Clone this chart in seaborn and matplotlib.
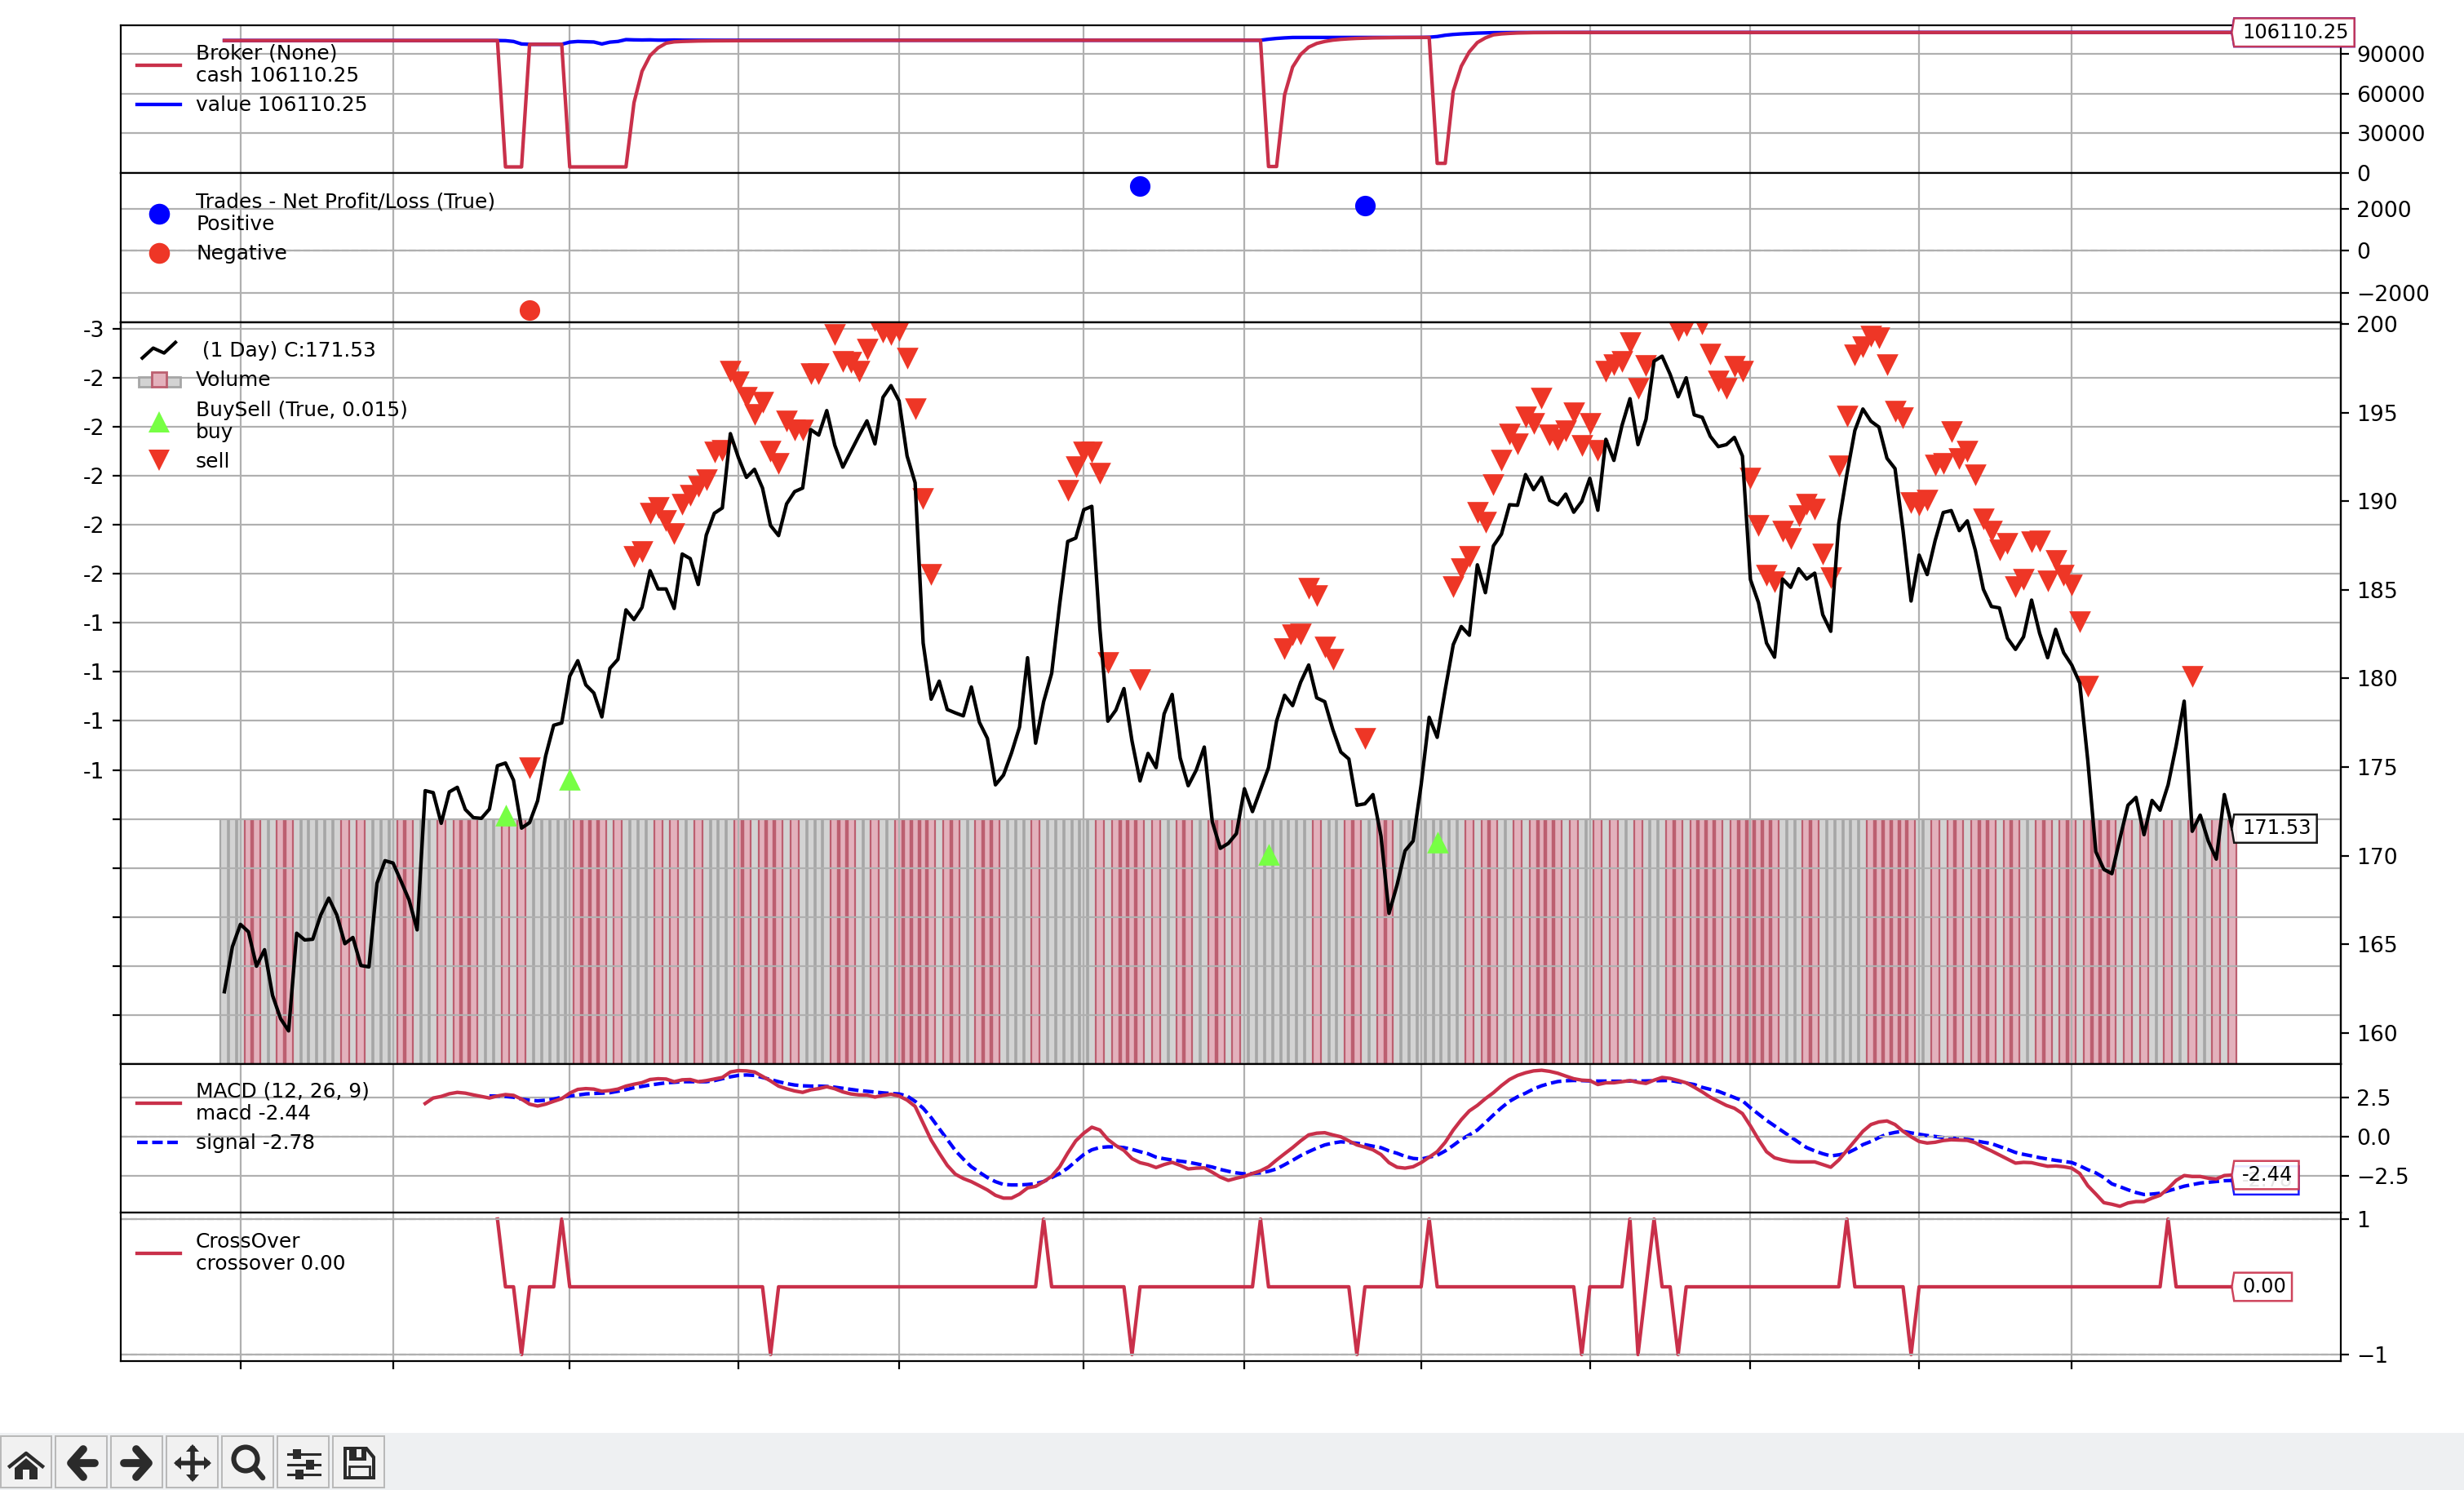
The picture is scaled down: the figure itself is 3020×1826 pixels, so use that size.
import numpy as np
import pandas as pd
import matplotlib
matplotlib.use('Agg')
import matplotlib.pyplot as plt
import seaborn as sns
from matplotlib.legend_handler import HandlerBase
from matplotlib.lines import Line2D
from matplotlib.patches import Circle, Polygon, Rectangle
from matplotlib.path import Path

# --- values ----------------------------------------------------------------
close = [
    162.33, 164.87, 166.13, 165.71, 163.77, 164.70, 162.12, 160.81, 160.12, 165.63,
    165.25, 165.29, 166.66, 167.61, 166.66, 165.04, 165.39, 163.81, 163.73, 168.45,
    169.72, 169.59, 168.56, 167.50, 165.82, 173.67, 173.56, 171.83, 173.60, 173.86,
    172.61, 172.15, 172.11, 172.63, 175.08, 175.23, 174.26, 171.56, 171.87, 173.10,
    175.63, 177.36, 177.49, 180.13, 181.00, 179.64, 179.18, 177.83, 180.57, 181.08,
    183.87, 183.32, 184.01, 186.08, 185.05, 185.05, 183.95, 187.02, 186.76, 185.30,
    188.09, 189.32, 189.62, 193.81, 192.46, 191.34, 191.80, 190.74, 188.63, 188.06,
    189.85, 190.54, 190.74, 194.04, 193.73, 195.11, 193.15, 191.92, 192.80, 193.69,
    194.53, 193.23, 195.86, 196.52, 195.66, 192.55, 191.04, 182.00, 178.83, 179.85,
    178.25, 178.06, 177.89, 179.52, 177.53, 176.62, 174.00, 174.55, 175.80, 177.26,
    181.17, 176.35, 178.69, 180.29, 184.20, 187.73, 187.92, 189.52, 189.71, 182.82,
    177.59, 178.22, 179.43, 176.48, 174.22, 175.77, 174.97, 178.00, 179.10, 175.52,
    173.95, 174.83, 176.13, 171.91, 170.42, 170.70, 171.25, 173.78, 172.49, 173.73,
    174.97, 177.59, 179.05, 178.47, 179.79, 180.76, 178.91, 178.69, 177.13, 175.85,
    175.46, 172.85, 172.93, 173.45, 171.11, 166.75, 168.35, 170.28, 170.83, 174.00,
    177.81, 176.68, 179.38, 181.91, 182.93, 182.44, 186.41, 184.84, 187.48, 188.14,
    189.80, 189.77, 191.50, 190.65, 191.34, 190.05, 189.80, 190.40, 189.38, 189.99,
    191.29, 189.49, 193.49, 192.30, 194.26, 195.78, 193.19, 194.62, 197.90, 198.18,
    197.16, 195.89, 196.96, 194.87, 194.73, 193.66, 193.08, 193.19, 193.60, 192.55,
    185.58, 184.28, 182.00, 181.20, 185.61, 185.14, 186.19, 185.61, 185.94, 183.60,
    182.66, 188.75, 191.50, 193.99, 195.20, 194.51, 194.18, 192.42, 191.84, 188.34,
    184.37, 186.96, 185.86, 187.79, 189.36, 189.47, 188.34, 188.89, 187.23, 185.03,
    184.06, 183.98, 182.27, 181.64, 182.35, 184.42, 182.55, 181.17, 182.77, 181.45,
    180.76, 179.74, 175.38, 170.23, 169.23, 168.99, 170.97, 172.85, 173.29, 171.19,
    173.12, 172.57, 174.00, 176.21, 178.72, 171.38, 172.29, 170.83, 169.81, 173.45,
    171.53,
]
down_days = [
    3, 4, 7, 8, 15, 17, 22, 23, 27, 29, 30, 31, 35, 37, 44, 45, 46, 47, 49, 54, 56,
    59, 64, 65, 67, 68, 69, 71, 76, 77, 78, 81, 84, 85, 86, 87, 88, 90, 91, 94, 95,
    96, 101, 109, 111, 112, 113, 114, 116, 119, 120, 123, 124, 126, 136, 140, 141,
    144, 145, 155, 157, 158, 161, 163, 164, 165, 166, 168, 171, 173, 176, 180, 181,
    183, 184, 185, 186, 188, 189, 190, 191, 192, 193, 197, 198, 205, 206, 207, 208,
    209, 210, 213, 215, 216, 218, 219, 220, 222, 223, 226, 227, 229, 230, 232, 233,
    234, 235, 237, 239, 242, 245, 248, 250,
]
volume_height = 5.0
sell_days = [
    38, 51, 52, 53, 54, 55, 56, 57, 58, 59, 60, 61, 62, 63, 64, 65, 66, 67, 68, 69,
    70, 71, 72, 73, 74, 76, 77, 78, 79, 80, 81, 82, 83, 84, 85, 86, 87, 88, 105, 106,
    107, 108, 109, 110, 114, 132, 133, 134, 135, 136, 137, 138, 142, 153, 154, 155,
    156, 157, 158, 159, 160, 161, 162, 163, 164, 165, 166, 167, 168, 169, 170, 171,
    172, 173, 174, 175, 176, 177, 181, 182, 184, 185, 186, 187, 188, 189, 190, 191,
    192, 193, 194, 195, 196, 197, 198, 199, 200, 201, 202, 203, 204, 205, 206, 207,
    208, 209, 210, 211, 212, 213, 214, 215, 216, 217, 218, 219, 220, 221, 222, 223,
    224, 225, 226, 227, 228, 229, 230, 231, 232, 245,
]
sell_prices = [
    174.98, 186.90, 187.15, 189.31, 189.63, 188.90, 188.16, 189.84, 190.35, 190.84,
    191.20, 192.76, 192.88, 197.35, 196.75, 195.87, 194.87, 195.56, 192.80, 192.11,
    194.53, 194.03, 194.03, 197.20, 197.20, 199.42, 197.89, 197.83, 197.35, 198.55,
    200.16, 199.54, 199.39, 199.65, 198.07, 195.23, 190.16, 185.86, 190.60, 191.92,
    192.77, 192.77, 191.56, 180.90, 179.93, 181.70, 182.47, 182.52, 185.08, 184.67,
    181.78, 181.09, 176.62, 185.17, 186.18, 186.88, 189.36, 188.80, 190.93, 192.33,
    193.79, 193.22, 194.76, 194.37, 195.83, 193.74, 193.46, 193.96, 194.98, 193.13,
    194.37, 192.86, 197.32, 197.68, 197.90, 198.92, 196.38, 197.63, 199.61, 199.90,
    200.02, 198.29, 196.77, 196.38, 197.60, 197.32, 191.29, 188.64, 185.83, 185.47,
    188.31, 187.90, 189.19, 189.83, 189.55, 187.01, 185.69, 191.97, 194.79, 198.23,
    198.70, 199.33, 199.20, 197.68, 195.06, 194.70, 189.90, 189.77, 190.07, 192.03,
    192.11, 193.90, 192.39, 192.80, 191.48, 189.00, 188.31, 187.26, 187.62, 185.19,
    185.61, 187.70, 187.76, 185.50, 186.65, 185.83, 185.28, 183.21, 179.57, 180.12,
]
buy_days = [35, 43, 130, 151]
buy_prices = [172.30, 174.32, 170.09, 170.78]

cash = [
    100000, 100000, 100000, 100000, 100000, 100000, 100000, 100000, 100000, 100000,
    100000, 100000, 100000, 100000, 100000, 100000, 100000, 100000, 100000, 100000,
    100000, 100000, 100000, 100000, 100000, 100000, 100000, 100000, 100000, 100000,
    100000, 100000, 100000, 100000, 100000, 4600, 4600, 4600, 97150, 97150,
    97150, 97150, 97150, 4600, 4600, 4600, 4600, 4600, 4600, 4600,
    4600, 53100, 76800, 88600, 94500, 98000, 99000, 99300, 99500, 99650,
    99750, 99800, 99850, 99880, 99900, 99920, 99940, 99960, 99980, 100000,
    100020, 100040, 100060, 100080, 100100, 100110, 100120, 100130, 100140, 100150,
    100160, 100165, 100170, 100175, 100180, 100185, 100190, 100195, 100200, 100200,
    100200, 100200, 100200, 100200, 100200, 100200, 100200, 100200, 100200, 100200,
    100200, 100200, 100200, 100200, 100200, 100200, 100200, 100200, 100200, 100200,
    100218, 100218, 100218, 100218, 100218, 100218, 100218, 100218, 100218, 100218,
    100218, 100218, 100218, 100218, 100218, 100218, 100218, 100218, 100218, 100218,
    4900, 4900, 59000, 80000, 89500, 95000, 97800, 99300, 100300, 100900,
    101300, 101600, 101800, 102000, 102100, 102180, 102240, 102290, 102320, 102340,
    102340, 7300, 7300, 61700, 80600, 91500, 98500, 102000, 104300, 105000,
    105400, 105700, 105850, 105950, 106000, 106030, 106050, 106070, 106080, 106090,
    106095, 106095, 106095, 106095, 106095, 106100, 106100, 106100, 106100, 106100,
    106100, 106100, 106100, 106100, 106100, 106100, 106100, 106100, 106100, 106100,
    106100, 106100, 106100, 106100, 106100, 106100, 106100, 106100, 106100, 106100,
    106100, 106100, 106100, 106100, 106100, 106100, 106100, 106100, 106100, 106100,
    106100, 106100, 106100, 106100, 106100, 106100, 106100, 106100, 106100, 106100,
    106100, 106100, 106100, 106100, 106100, 106100, 106100, 106100, 106100, 106100,
    106110.25, 106110.25, 106110.25, 106110.25, 106110.25, 106110.25, 106110.25, 106110.25, 106110.25, 106110.25,
    106110.25, 106110.25, 106110.25, 106110.25, 106110.25, 106110.25, 106110.25, 106110.25, 106110.25, 106110.25,
    106110.25,
]
value = [
    100000, 100000, 100000, 100000, 100000, 100000, 100000, 100000, 100000, 100000,
    100000, 100000, 100000, 100000, 100000, 100000, 100000, 100000, 100000, 100000,
    100000, 100000, 100000, 100000, 100000, 100000, 100000, 100000, 100000, 100000,
    100000, 100000, 100000, 100000, 100000, 99900, 99300, 97400, 97150, 97150,
    97150, 97150, 97150, 98800, 99300, 99100, 98900, 97400, 98800, 99300,
    100700, 100500, 100400, 100500, 100300, 100300, 100400, 100300, 100300, 100250,
    100218, 100218, 100218, 100218, 100218, 100218, 100218, 100218, 100218, 100218,
    100218, 100218, 100218, 100218, 100218, 100218, 100218, 100218, 100218, 100218,
    100218, 100218, 100218, 100218, 100218, 100218, 100218, 100218, 100218, 100218,
    100218, 100218, 100218, 100218, 100218, 100218, 100218, 100218, 100218, 100218,
    100218, 100218, 100218, 100218, 100218, 100218, 100218, 100218, 100218, 100218,
    100218, 100218, 100218, 100218, 100218, 100218, 100218, 100218, 100218, 100218,
    100218, 100218, 100218, 100218, 100218, 100218, 100218, 100218, 100218, 100218,
    101000, 101600, 102000, 102300, 102340, 102340, 102340, 102340, 102340, 102340,
    102340, 102340, 102340, 102340, 102340, 102340, 102340, 102340, 102340, 102340,
    102500, 103000, 104000, 104600, 105000, 105300, 105600, 105800, 105950, 106000,
    106050, 106060, 106070, 106070, 106080, 106080, 106090, 106090, 106090, 106090,
    106095, 106095, 106095, 106095, 106095, 106100, 106100, 106100, 106100, 106100,
    106100, 106100, 106100, 106100, 106100, 106100, 106100, 106100, 106100, 106100,
    106100, 106100, 106100, 106100, 106100, 106100, 106100, 106100, 106100, 106100,
    106100, 106100, 106100, 106100, 106100, 106100, 106100, 106100, 106100, 106100,
    106100, 106100, 106100, 106100, 106100, 106100, 106100, 106100, 106100, 106100,
    106100, 106100, 106100, 106100, 106100, 106100, 106100, 106100, 106100, 106100,
    106110.25, 106110.25, 106110.25, 106110.25, 106110.25, 106110.25, 106110.25, 106110.25, 106110.25, 106110.25,
    106110.25, 106110.25, 106110.25, 106110.25, 106110.25, 106110.25, 106110.25, 106110.25, 106110.25, 106110.25,
    106110.25,
]
trade_win_days = [114, 142]
trade_win = [3068, 2124]
trade_loss_days = [38]
trade_loss = [-2850]

macd_start = 25
macd = [
    2.12, 2.47, 2.57, 2.74, 2.83, 2.78, 2.67, 2.57, 2.47, 2.60, 2.69, 2.64, 2.40, 2.08, 1.96,
    2.08, 2.26, 2.43, 2.78, 3.02, 3.07, 3.04, 2.90, 2.95, 3.04, 3.23, 3.35, 3.45, 3.65, 3.70,
    3.68, 3.51, 3.63, 3.65, 3.51, 3.58, 3.68, 3.78, 4.13, 4.22, 4.20, 4.13, 3.85, 3.56, 3.23,
    3.06, 2.92, 2.83, 2.99, 3.07, 3.19, 3.06, 2.86, 2.73, 2.67, 2.66, 2.53, 2.64, 2.71, 2.60,
    2.34, 1.94, 0.87, -0.21, -1.04, -1.82, -2.38, -2.66, -2.86, -3.12, -3.39, -3.73, -3.91,
    -3.91, -3.65, -3.26, -3.16, -2.86, -2.52, -1.91, -1.04, -0.26, 0.23, 0.61, 0.43, -0.17,
    -0.56, -0.87, -1.39, -1.65, -1.77, -1.96, -1.77, -1.63, -1.82, -2.05, -2.00, -1.98, -2.26,
    -2.57, -2.78, -2.64, -2.52, -2.34, -2.17, -1.91, -1.48, -1.08, -0.69, -0.26, 0.12, 0.23,
    0.26, 0.12, 0.00, -0.26, -0.52, -0.66, -0.83, -1.13, -1.65, -1.94, -2.00, -1.91, -1.65,
    -1.30, -0.95, -0.35, 0.43, 1.09, 1.65, 2.00, 2.43, 2.81, 3.26, 3.65, 3.91, 4.08, 4.20,
    4.24, 4.17, 4.05, 3.87, 3.70, 3.61, 3.58, 3.33, 3.44, 3.44, 3.51, 3.58, 3.47, 3.40, 3.61,
    3.78, 3.72, 3.59, 3.44, 3.16, 2.86, 2.52, 2.26, 2.00, 1.82, 1.48, 0.69, -0.17, -0.95,
    -1.34, -1.48, -1.58, -1.60, -1.60, -1.60, -1.77, -1.94, -1.48, -0.87, -0.26, 0.35, 0.78,
    0.95, 1.01, 0.78, 0.35, 0.00, -0.30, -0.40, -0.35, -0.24, -0.19, -0.21, -0.23, -0.38,
    -0.66, -0.90, -1.16, -1.42, -1.68, -1.63, -1.65, -1.77, -1.88, -1.86, -1.91, -2.00, -2.34,
    -3.12, -3.65, -4.20, -4.30, -4.43, -4.22, -4.13, -4.13, -3.91, -3.73, -3.30, -2.78, -2.47,
    -2.53, -2.53, -2.64, -2.69, -2.47, -2.44,
]
signal_start = 33
signal = [
    2.60, 2.60, 2.57, 2.52, 2.40, 2.33, 2.29, 2.33, 2.40, 2.52,
    2.60, 2.66, 2.73, 2.76, 2.78, 2.81, 2.90, 3.00, 3.13, 3.21,
    3.30, 3.37, 3.44, 3.47, 3.51, 3.51, 3.51, 3.51, 3.58, 3.70,
    3.82, 3.91, 3.94, 3.91, 3.78, 3.65, 3.51, 3.39, 3.30, 3.25,
    3.23, 3.23, 3.21, 3.16, 3.09, 3.02, 2.95, 2.90, 2.85, 2.80,
    2.76, 2.73, 2.60, 2.26, 1.82, 1.22, 0.52, -0.17, -0.87, -1.42,
    -1.91, -2.26, -2.60, -2.86, -3.04, -3.07, -3.07, -3.04, -2.99, -2.85,
    -2.60, -2.34, -2.00, -1.56, -1.13, -0.83, -0.68, -0.64, -0.64, -0.69,
    -0.80, -0.95, -1.08, -1.30, -1.40, -1.48, -1.55, -1.62, -1.72, -1.82,
    -1.93, -2.08, -2.20, -2.30, -2.36, -2.34, -2.30, -2.20, -2.05, -1.78,
    -1.50, -1.20, -0.95, -0.72, -0.52, -0.40, -0.32, -0.36, -0.41, -0.50,
    -0.60, -0.69, -0.90, -1.05, -1.25, -1.38, -1.42, -1.30, -1.18, -0.90,
    -0.55, -0.17, 0.12, 0.43, 0.90, 1.39, 1.85, 2.26, 2.55, 2.78,
    3.05, 3.25, 3.40, 3.52, 3.57, 3.59, 3.58, 3.56, 3.55, 3.55,
    3.54, 3.54, 3.55, 3.55, 3.56, 3.57, 3.58, 3.59, 3.50, 3.42,
    3.33, 3.15, 3.02, 2.90, 2.70, 2.50, 2.30, 1.85, 1.45, 1.05,
    0.70, 0.35, 0.00, -0.35, -0.69, -0.90, -1.08, -1.22, -1.15, -1.05,
    -0.80, -0.50, -0.30, -0.05, 0.17, 0.28, 0.35, 0.25, 0.16, 0.08,
    0.02, -0.05, -0.09, -0.12, -0.16, -0.25, -0.35, -0.43, -0.62, -0.80,
    -1.00, -1.12, -1.22, -1.33, -1.42, -1.50, -1.57, -1.64, -1.85, -2.10,
    -2.30, -2.60, -3.00, -3.18, -3.38, -3.55, -3.68, -3.65, -3.60, -3.45,
    -3.30, -3.15, -3.05, -2.95, -2.90, -2.85, -2.80, -2.78,
]
cross_start = 34
cross_up = [34, 42, 102, 129, 150, 175, 178, 202, 242]
cross_down = [37, 68, 113, 141, 169, 176, 181, 210]

month_ticks = [2, 21, 43, 64, 84, 107, 127, 149, 170, 190, 211, 230]
volume_ticks = [1, 2, 3, 4, 5, 6, 7, 8, 9, 10, 11, 12, 13, 14, 15]
volume_labels = ['', '', '', '', '', '-1', '-1', '-1', '-1', '-2', '-2', '-2', '-2', '-2', '-3']

# --- styles ----------------------------------------------------------------
W, H = 3020, 1826
CRIMSON = '#c9304a'
BLUE = '#0000ff'
RED_MARK = '#ee3626'
GREEN_MARK = '#77ff44'
GRID = '#b0b0b0'
BAR_GRAY, BAR_GRAY_EDGE = '#d3d3d3', '#a6a6a6'
BAR_RED, BAR_RED_EDGE = '#e3b1bc', '#bc5f70'
LEG_SIZE = 8.95
TAG_SIZE = 8.7
TICK_SIZE = 9.6
LINE_W = 1.55
DASHES = (3.0, 1.3)

plt.rcParams['xtick.labelsize'] = TICK_SIZE
plt.rcParams['ytick.labelsize'] = TICK_SIZE

days = np.arange(len(close))
fig = plt.figure(figsize=(W / 200, H / 200), dpi=200)


def panel(top, bottom):
    return fig.add_axes([148 / W, 1 - bottom / H, 2721 / W, (bottom - top) / H])


def tag_shape(x0, y0, width, height, mutation_size):
    # white label with a small point on its left side
    l, r = x0 - 0.40 * mutation_size, x0 + width + 0.30 * mutation_size
    b, t = y0 - 0.22 * mutation_size, y0 + height + 0.22 * mutation_size
    tip = x0 - 0.52 * mutation_size
    return Path([(l, b), (r, b), (r, t), (l, t), (tip, (b + t) / 2), (l, b)], closed=True)


def add_tag(ax, y, text, color, zorder=6):
    ax.text(251.2, y, text, fontsize=TAG_SIZE, va='center', ha='left', zorder=zorder,
            bbox=dict(boxstyle=tag_shape, fc='white', ec=color, lw=0.9, alpha=0.9))


def style_panel(ax, xlim=(-12.9, 263.5), bottom_ticks=False):
    ax.set_xlim(*xlim)
    ax.set_xticks(month_ticks)
    ax.set_xticklabels([])
    ax.tick_params(axis='x', bottom=bottom_ticks)
    ax.set_xlabel('')
    ax.set_ylabel('')
    ax.grid(True, color=GRID, lw=0.8)


class ZigzagHandler(HandlerBase):
    def create_artists(self, legend, orig, xd, yd, w, h, fontsize, trans):
        xs = np.array([0.12, 0.37, 0.62, 0.88]) * w
        ys = np.array([-0.1, 0.6, 0.25, 1.0]) * h
        return [Line2D(xs, ys, color='black', lw=1.5, transform=trans)]


class VolumeHandler(HandlerBase):
    def create_artists(self, legend, orig, xd, yd, w, h, fontsize, trans):
        parts = []
        for x0, dx, hh, fc, ec in [(0.03, 0.31, 0.7, BAR_GRAY, BAR_GRAY_EDGE),
                                   (0.66, 0.33, 0.7, BAR_GRAY, BAR_GRAY_EDGE),
                                   (0.33, 0.34, 1.05, BAR_RED, BAR_RED_EDGE)]:
            parts.append(Rectangle((x0 * w, -0.05 * h), dx * w, hh * h, fc=fc, ec=ec,
                                   lw=1.0, transform=trans))
        return parts


def add_legend(ax, handles, labels, x_px, y_px, spacing=0.5, handler_map=None):
    leg = ax.legend(handles, labels, loc='upper left', frameon=False,
                    bbox_to_anchor=(x_px / W, 1 - y_px / H), bbox_transform=fig.transFigure,
                    borderaxespad=0, borderpad=0, fontsize=LEG_SIZE, handlelength=2.15,
                    handletextpad=0.75, labelspacing=spacing, handler_map=handler_map)
    leg.set_zorder(10)
    for t in leg.get_texts():
        t.set_linespacing(1.15)
    return leg


# --- broker ----------------------------------------------------------------
ax_broker = panel(31, 212.5)
sns.lineplot(x=days, y=value, color=BLUE, lw=LINE_W, ax=ax_broker, estimator=None, sort=False)
sns.lineplot(x=days, y=cash, color=CRIMSON, lw=LINE_W, ax=ax_broker, estimator=None, sort=False)
style_panel(ax_broker)
ax_broker.set_ylim(-300, 111500)
ax_broker.yaxis.tick_right()
ax_broker.set_yticks([0, 30000, 60000, 90000])
add_tag(ax_broker, value[-1], '106110.25', BLUE, zorder=6)
add_tag(ax_broker, cash[-1], '106110.25', CRIMSON, zorder=7)
add_legend(ax_broker,
           [Line2D([], [], color=CRIMSON, lw=LINE_W), Line2D([], [], color=BLUE, lw=LINE_W)],
           ['Broker (None)\ncash 106110.25', 'value 106110.25'], 168, 54)

# --- trades ----------------------------------------------------------------
ax_trades = panel(212.5, 395)
sns.scatterplot(x=trade_win_days, y=trade_win, color=BLUE, marker='o', s=82, linewidth=0,
                ax=ax_trades, legend=False, zorder=4)
sns.scatterplot(x=trade_loss_days, y=trade_loss, color=RED_MARK, marker='o', s=82, linewidth=0,
                ax=ax_trades, legend=False, zorder=4)
style_panel(ax_trades)
ax_trades.set_ylim(-3417, 3670)
ax_trades.yaxis.tick_right()
ax_trades.set_yticks([-2000, 0, 2000])
ax_trades.axhline(0, color=GRID, lw=0.8, ls='--')
add_legend(ax_trades,
           [Line2D([], [], color=BLUE, marker='o', ls='none', markersize=9.2, markeredgewidth=0),
            Line2D([], [], color=RED_MARK, marker='o', ls='none', markersize=9.2, markeredgewidth=0)],
           ['Trades - Net Profit/Loss (True)\nPositive', 'Negative'], 168, 236)

# --- price and volume ------------------------------------------------------
ax_vol = panel(395, 1304)
bars = pd.DataFrame({'day': days, 'volume': [volume_height] * len(days)})
is_down = bars['day'].isin(down_days)
sns.barplot(data=bars[~is_down], x='day', y='volume', native_scale=True, width=1, color=BAR_GRAY,
            saturation=1, linewidth=0, errorbar=None, ax=ax_vol)
sns.barplot(data=bars[is_down], x='day', y='volume', native_scale=True, width=1, color=BAR_RED,
            saturation=1, linewidth=0, errorbar=None, ax=ax_vol)
# bar edges: heavy between bars of one colour, thin where the colour changes
down_flag = is_down.to_numpy()
for left, (a, b) in enumerate(zip(down_flag[:-1], down_flag[1:])):
    if a == b:
        edge, edge_w = (BAR_RED_EDGE if a else BAR_GRAY_EDGE), (1.6 if a else 1.3)
    else:
        edge, edge_w = BAR_RED_EDGE, 0.8
    ax_vol.vlines(left + 0.5, 0, volume_height, colors=edge, lw=edge_w, zorder=1.5)
ax_vol.vlines(days[0] - 0.5, 0, volume_height, colors=BAR_GRAY_EDGE, lw=0.8, zorder=1.5)
ax_vol.vlines(days[-1] + 0.5, 0, volume_height, colors=BAR_RED_EDGE, lw=0.8, zorder=1.5)
style_panel(ax_vol)
ax_vol.set_axisbelow(False)
ax_vol.set_ylim(0, 15.13)
ax_vol.set_yticks(volume_ticks)
ax_vol.set_yticklabels(volume_labels)

ax_price = ax_vol.twinx()
sns.scatterplot(x=sell_days, y=sell_prices, color=RED_MARK, marker='v', s=92, linewidth=0,
                ax=ax_price, legend=False, zorder=2)
sns.scatterplot(x=buy_days, y=buy_prices, color=GREEN_MARK, marker='^', s=92, linewidth=0,
                ax=ax_price, legend=False, zorder=2)
sns.lineplot(x=days, y=close, color='black', lw=LINE_W, ax=ax_price, estimator=None, sort=False, zorder=3)
ax_price.set_xlim(-12.9, 263.5)
ax_price.set_ylim(158.25, 200.09)
ax_price.set_yticks([160, 165, 170, 175, 180, 185, 190, 195, 200])
ax_price.set_ylabel('')
ax_price.grid(False)
add_tag(ax_price, close[-1], '171.53', 'black')

zig = Line2D([], [], color='black')
vol_handle = Line2D([], [], color='gray')
add_legend(ax_price,
           [zig, vol_handle,
            Line2D([], [], color=GREEN_MARK, marker='^', ls='none', markersize=9.6, markeredgewidth=0),
            Line2D([], [], color=RED_MARK, marker='v', ls='none', markersize=9.6, markeredgewidth=0)],
           [' (1 Day) C:171.53', 'Volume', 'BuySell (True, 0.015)\nbuy', 'sell'], 168, 418,
           handler_map={zig: ZigzagHandler(), vol_handle: VolumeHandler()})

# --- macd ------------------------------------------------------------------
ax_macd = panel(1304, 1486)
sns.lineplot(x=days[signal_start:], y=signal, color=BLUE, lw=LINE_W, ls='--', ax=ax_macd,
             estimator=None, sort=False)
ax_macd.lines[0].set_dashes(DASHES)
sns.lineplot(x=days[macd_start:], y=macd, color=CRIMSON, lw=LINE_W, ax=ax_macd, estimator=None,
             sort=False, zorder=3)
style_panel(ax_macd)
ax_macd.set_ylim(-4.83, 4.635)
ax_macd.yaxis.tick_right()
ax_macd.set_yticks([-2.5, 0, 2.5])
ax_macd.axhline(0, color=GRID, lw=0.8, ls='--')
add_tag(ax_macd, signal[-1], '-2.78', BLUE, zorder=6)
add_tag(ax_macd, macd[-1], '-2.44', CRIMSON, zorder=7)
add_legend(ax_macd,
           [Line2D([], [], color=CRIMSON, lw=LINE_W),
            Line2D([], [], color=BLUE, lw=LINE_W, dashes=DASHES)],
           ['MACD (12, 26, 9)\nmacd -2.44', 'signal -2.78'], 168, 1326)

# --- crossover -------------------------------------------------------------
crossover = np.zeros(len(days) - cross_start)
crossover[np.array(cross_up) - cross_start] = 1
crossover[np.array(cross_down) - cross_start] = -1
ax_cross = panel(1486, 1668)
sns.lineplot(x=days[cross_start:], y=crossover, color=CRIMSON, lw=LINE_W, ax=ax_cross,
             estimator=None, sort=False)
style_panel(ax_cross, bottom_ticks=True)
ax_cross.set_ylim(-1.096, 1.096)
ax_cross.yaxis.tick_right()
ax_cross.set_yticks([-1, 1])
ax_cross.axhline(1, color=GRID, lw=0.8, ls='--')
ax_cross.axhline(-1, color=GRID, lw=0.8, ls='--')
add_tag(ax_cross, 0, '0.00', CRIMSON)
add_legend(ax_cross, [Line2D([], [], color=CRIMSON, lw=LINE_W)], ['CrossOver\ncrossover 0.00'], 168, 1510)

# --- window toolbar --------------------------------------------------------
bar = fig.add_axes([0, 0, 1, 70 / H])
bar.set_xlim(0, W)
bar.set_ylim(1826, 1756)
bar.axis('off')
INK = '#2b2b2b'
PANEL = '#f1f1f1'
bar.add_patch(Rectangle((0, 1756), W, 70, fc='#eef0f2', ec='none'))
for x0, x1 in [(1, 63), (68, 131), (136, 199), (204, 267), (272, 335), (340, 403), (408, 471)]:
    bar.add_patch(Rectangle((x0, 1760), x1 - x0, 63, fc=PANEL, ec='#b8b8b8', lw=0.7))

# home
bar.plot([12, 32, 52], [1797, 1781, 1797], color=INK, lw=1.6)
bar.add_patch(Polygon([(18, 1799), (32, 1787), (46, 1799), (46, 1813), (36, 1813), (36, 1801),
                       (28, 1801), (28, 1813), (18, 1813)], fc=INK, ec='none'))
# back / forward
bar.plot([116, 88], [1793, 1793], color=INK, lw=3.5, solid_capstyle='round')
bar.plot([102, 87, 102], [1776, 1793, 1810], color=INK, lw=3.5, solid_capstyle='round')
bar.plot([152, 180], [1793, 1793], color=INK, lw=3.5, solid_capstyle='round')
bar.plot([167, 182, 167], [1776, 1793, 1810], color=INK, lw=3.5, solid_capstyle='round')
# move
bar.plot([218, 254], [1793, 1793], color=INK, lw=2)
bar.plot([236, 236], [1775, 1811], color=INK, lw=2)
for pts in ([(213, 1793), (222, 1785), (222, 1801)], [(259, 1793), (250, 1785), (250, 1801)],
            [(236, 1770), (228, 1779), (244, 1779)], [(236, 1816), (228, 1807), (244, 1807)]):
    bar.add_patch(Polygon(pts, fc=INK, ec='none'))
# zoom
bar.add_patch(Circle((301, 1788), 14.5, fc='none', ec=INK, lw=2.2))
bar.plot([313, 322], [1800, 1811], color=INK, lw=2.4, solid_capstyle='round')
# sliders
for y, knob in [(1782, 364), (1795, 380), (1807, 367)]:
    bar.plot([353, 392], [y, y], color=INK, lw=1.1)
    bar.add_patch(Rectangle((knob - 5, y - 6), 10, 12, fc=INK, ec='none'))
# save
bar.add_patch(Polygon([(421, 1773), (450, 1773), (460, 1785), (460, 1813), (421, 1813)], fc=INK, ec='none'))
bar.add_patch(Polygon([(425, 1777), (448, 1777), (456, 1787), (456, 1809), (425, 1809)], fc=PANEL, ec='none'))
bar.add_patch(Rectangle((428, 1775), 21, 15, fc=INK, ec='none'))
bar.add_patch(Rectangle((437, 1776), 6, 10, fc=PANEL, ec='none'))
bar.add_patch(Rectangle((428, 1797), 25, 13, fc='none', ec=INK, lw=1.0))

fig.savefig('out.png', dpi=200)
